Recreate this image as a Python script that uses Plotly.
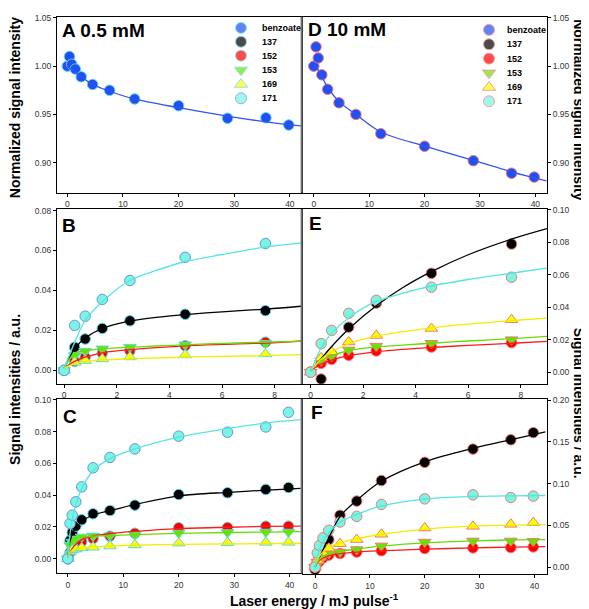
import plotly.graph_objects as go

# ---------------- data ----------------
energy_full = [0, 0.4, 0.8, 1.45, 2.5, 4.55, 7.6, 12.1, 20.0, 28.8, 35.7, 39.8]
energy_low = [0, 0.4, 0.8, 1.45, 2.5, 4.6, 7.65]
fit_x_full = [0, 0.4, 1, 2.5, 4.6, 7.6, 12, 20, 29, 36, 42]
fit_x_low = [0, 0.4, 0.8, 1.5, 2.5, 3.5, 4.6, 6, 7.7, 9]

series_names = ["benzoate", "137", "152", "153", "169", "171"]

# Panel A (0.5 mM) normalized benzoate signal
A_benzoate = [1.000, 1.010, 1.002, 0.997, 0.989, 0.981, 0.975, 0.966, 0.959, 0.946, 0.9465, 0.939]
A_benzoate_fit = [1.000, 0.998, 0.996, 0.989, 0.981, 0.974, 0.966, 0.957, 0.948, 0.942, 0.938]
# Panel D (10 mM)
D_benzoate = [1.000, 1.020, 1.0085, 0.991, 0.976, 0.962, 0.950, 0.930, 0.917, 0.902, 0.889, 0.885]
D_benzoate_fit = [1.000, 0.999, 0.994, 0.978, 0.963, 0.950, 0.932, 0.917, 0.902, 0.890, 0.881]

# Panel B (0.5 mM, low energy)
B_137 = [0, 0.0116, 0.0157, 0.0210, 0.0248, 0.0281, 0.0299]
B_152 = [0, 0.0045, 0.0066, 0.0086, 0.0098, 0.0123, 0.0141]
B_153 = [0, 0.0074, 0.0096, 0.0108, 0.0116, 0.0128, 0.0136]
B_169 = [0, 0.0040, 0.0049, 0.0057, 0.0067, 0.0077, 0.0082]
B_171 = [0, 0.0225, 0.0271, 0.0355, 0.0450, 0.0566, 0.0635]
B_137_fit = [0.001, 0.0109, 0.0162, 0.0212, 0.0246, 0.0265, 0.0279, 0.0293, 0.0307, 0.0321]
B_152_fit = [0.001, 0.0045, 0.0066, 0.0089, 0.0104, 0.0114, 0.0123, 0.0130, 0.0137, 0.0147]
B_153_fit = [0.001, 0.0085, 0.0098, 0.0108, 0.0116, 0.0122, 0.0128, 0.0135, 0.0141, 0.0145]
B_169_fit = [0.001, 0.0035, 0.0045, 0.0052, 0.0058, 0.0062, 0.0066, 0.0070, 0.0074, 0.0079]
B_171_fit = [0.001, 0.014, 0.025, 0.035, 0.045, 0.050, 0.0545, 0.058, 0.0618, 0.0638]

# Panel C (0.5 mM, full energy)
C_137 = [0, 0.0115, 0.0165, 0.0205, 0.0245, 0.0283, 0.0303, 0.0337, 0.0404, 0.0415, 0.0436, 0.0448]
C_152 = [0, 0.0040, 0.0065, 0.0085, 0.0108, 0.0127, 0.0142, 0.0160, 0.0195, 0.0197, 0.0205, 0.0205]
C_153 = [0, 0.0085, 0.0105, 0.0125, 0.0137, 0.0143, 0.0145, 0.0152, 0.0162, 0.0165, 0.0168, 0.0168]
C_169 = [0, 0.0045, 0.0055, 0.0060, 0.0068, 0.0072, 0.0080, 0.0087, 0.0098, 0.0101, 0.0103, 0.0103]
C_171 = [0, 0.0222, 0.0274, 0.0358, 0.0452, 0.0572, 0.0637, 0.0691, 0.0771, 0.0796, 0.0829, 0.0921]
C_137_fit = [0.001, 0.011, 0.017, 0.0235, 0.0275, 0.0302, 0.034, 0.0395, 0.0418, 0.0432, 0.0442]
C_152_fit = [0.001, 0.004, 0.0075, 0.012, 0.0143, 0.0158, 0.0172, 0.019, 0.0198, 0.0203, 0.0205]
C_153_fit = [0.001, 0.008, 0.0125, 0.0138, 0.0142, 0.0146, 0.0152, 0.016, 0.0165, 0.0168, 0.017]
C_169_fit = [0.001, 0.004, 0.0058, 0.007, 0.0076, 0.008, 0.0085, 0.009, 0.0093, 0.0095, 0.0096]
C_171_fit = [0.0, 0.016, 0.028, 0.044, 0.0555, 0.063, 0.069, 0.0765, 0.082, 0.0855, 0.0875]

# Panel E (10 mM, low energy)
E_137 = [0, -0.0042, 0.011, 0.0277, 0.0425, 0.0608, 0.0788]
E_152 = [0, 0.0055, 0.0079, 0.0104, 0.0131, 0.0155, 0.0182]
E_153 = [0, 0.0070, 0.0099, 0.0137, 0.0160, 0.0178, 0.0200]
E_169 = [0, 0.0088, 0.0125, 0.0186, 0.0226, 0.0269, 0.0323]
E_171 = [0, 0.0176, 0.0257, 0.0362, 0.0442, 0.0523, 0.0584]
E_137_fit = [0.001, 0.0083, 0.0158, 0.0273, 0.0408, 0.0519, 0.0618, 0.0722, 0.0821, 0.0883]
E_152_fit = [0.001, 0.005, 0.0075, 0.0103, 0.0125, 0.014, 0.0152, 0.0165, 0.0178, 0.019]
E_153_fit = [0.001, 0.007, 0.010, 0.0135, 0.0155, 0.0167, 0.0178, 0.0192, 0.0207, 0.022]
E_169_fit = [0.001, 0.008, 0.0125, 0.0178, 0.0222, 0.0248, 0.0272, 0.0295, 0.0318, 0.0333]
E_171_fit = [0.0, 0.015, 0.024, 0.034, 0.0435, 0.0485, 0.053, 0.057, 0.061, 0.064]

# Panel F (10 mM, full energy)
F_137 = [-0.003, 0.005, 0.011, 0.021, 0.033, 0.062, 0.079, 0.1036, 0.1254, 0.1413, 0.1524, 0.161]
F_152 = [0, 0.004, 0.007, 0.011, 0.0143, 0.0163, 0.018, 0.0196, 0.0222, 0.023, 0.0234, 0.0242]
F_153 = [0, 0.006, 0.009, 0.012, 0.0163, 0.018, 0.021, 0.0254, 0.030, 0.0313, 0.0313, 0.031]
F_169 = [0, 0.008, 0.012, 0.017, 0.0225, 0.028, 0.033, 0.0393, 0.0468, 0.0488, 0.0512, 0.0532]
F_171 = [0, 0.017, 0.026, 0.035, 0.044, 0.054, 0.0607, 0.075, 0.0817, 0.0865, 0.0833, 0.085]
F_137_fit = [0.0, 0.006, 0.0145, 0.035, 0.061, 0.080, 0.1025, 0.126, 0.1425, 0.153, 0.162]
F_152_fit = [0.001, 0.005, 0.009, 0.0135, 0.016, 0.018, 0.0195, 0.0215, 0.023, 0.024, 0.0245]
F_153_fit = [0.001, 0.006, 0.011, 0.016, 0.019, 0.0215, 0.025, 0.029, 0.0315, 0.0325, 0.033]
F_169_fit = [0.001, 0.008, 0.015, 0.024, 0.029, 0.034, 0.039, 0.0455, 0.049, 0.0503, 0.0508]
F_171_fit = [0.0, 0.012, 0.024, 0.041, 0.054, 0.063, 0.073, 0.0815, 0.0845, 0.0853, 0.0857]

# ---------------- styles ----------------
W, H = 589, 609
FONT = "Liberation Sans, Arial, sans-serif"
fill = {"benzoate": "#1F4FF5", "137": "#000000", "152": "#FF0000",
        "153": "#66E600", "169": "#FFFF00", "171": "#7AF5E0"}
line_col = {"benzoate": "#3355EE", "137": "#000000", "152": "#FF1A1A",
            "153": "#66DD00", "169": "#EEEE00", "171": "#55E6DC"}
symbol = {"benzoate": "circle", "137": "circle", "152": "circle",
          "153": "triangle-down", "169": "triangle-up", "171": "circle"}
left_edge = "#5CD6E8"
cyan_left_edge = "#6C8EF0"
right_edge = "#F07878"


def edge_for(name, side):
    if side == "left":
        return cyan_left_edge if name == "171" else left_edge
    return right_edge


def msize(name):
    return 11 if symbol[name].startswith("triangle") else 10.5


def pxx(p):
    return p / W


def pxy(p):
    return 1 - p / H


panels = [
    ("A", "", (49, 293), (4, 181), [-1.85, 42.0], [0.869, 1.051], 10, 0.05, "left"),
    ("B", "2", (49, 293), (198, 374), [-0.27, 9.0], [-0.0068, 0.0806], 2, 0.02, "left"),
    ("C", "3", (49, 293), (389, 565), [-1.95, 42.05], [-0.0092, 0.1006], 10, 0.02, "left"),
    ("D", "4", (295, 539), (4, 181), [-1.95, 42.1], [0.869, 1.051], 10, 0.05, "right"),
    ("E", "5", (295, 539), (198, 374), [-0.29, 9.0], [-0.0072, 0.1001], 2, 0.02, "right"),
    ("F", "6", (295, 539), (389, 566), [-2.2, 42.3], [-0.0087, 0.2015], 10, 0.05, "right"),
]

panel_data = {
    "A": (energy_full, {"benzoate": A_benzoate}, fit_x_full, {"benzoate": A_benzoate_fit}),
    "D": (energy_full, {"benzoate": D_benzoate}, fit_x_full, {"benzoate": D_benzoate_fit}),
    "B": (energy_low, {"137": B_137, "152": B_152, "153": B_153, "169": B_169, "171": B_171},
          fit_x_low, {"137": B_137_fit, "152": B_152_fit, "153": B_153_fit, "169": B_169_fit, "171": B_171_fit}),
    "C": (energy_full, {"137": C_137, "152": C_152, "153": C_153, "169": C_169, "171": C_171},
          fit_x_full, {"137": C_137_fit, "152": C_152_fit, "153": C_153_fit, "169": C_169_fit, "171": C_171_fit}),
    "E": (energy_low, {"137": E_137, "152": E_152, "153": E_153, "169": E_169, "171": E_171},
          fit_x_low, {"137": E_137_fit, "152": E_152_fit, "153": E_153_fit, "169": E_169_fit, "171": E_171_fit}),
    "F": (energy_full, {"137": F_137, "152": F_152, "153": F_153, "169": F_169, "171": F_171},
          fit_x_full, {"137": F_137_fit, "152": F_152_fit, "153": F_153_fit, "169": F_169_fit, "171": F_171_fit}),
}

fig = go.Figure()
layout = dict(width=W, height=H, margin=dict(l=0, r=0, t=0, b=0),
              paper_bgcolor="white", plot_bgcolor="rgba(0,0,0,0)", showlegend=False)

tickfont = dict(family=FONT, size=8.5, color="#333333")
for key, suf, xd, yd, xr, yr, dx, dy, side in panels:
    ax = dict(domain=[pxx(xd[0]), pxx(xd[1])], range=xr, dtick=dx, tick0=0,
              showline=True, linecolor="black", linewidth=1, mirror=True,
              ticks="outside", ticklen=3, tickwidth=1, tickcolor="black",
              showgrid=False, zeroline=False, tickfont=tickfont,
              anchor="y" + suf)
    ay = dict(domain=[pxy(yd[1]), pxy(yd[0])], range=yr, dtick=dy, tick0=0,
              tickformat=".2f", side=side,
              showline=True, linecolor="black", linewidth=1, mirror=True,
              ticks="outside", ticklen=3, tickwidth=1, tickcolor="black",
              showgrid=False, zeroline=False, tickfont=tickfont,
              anchor="x" + suf)
    layout["xaxis" + suf] = ax
    layout["yaxis" + suf] = ay

    xs, ser, fx, fits = panel_data[key]
    for name in series_names:
        if name in ser:
            fig.add_trace(go.Scatter(
                x=xs, y=ser[name], mode="markers", xaxis="x" + suf, yaxis="y" + suf,
                marker=dict(symbol=symbol[name], size=msize(name), color=fill[name],
                            line=dict(color=edge_for(name, side), width=1)),
                name=name, hoverinfo="skip", cliponaxis=True))
    for name in series_names:
        if name in fits:
            fig.add_trace(go.Scatter(
                x=fx, y=fits[name], mode="lines", xaxis="x" + suf, yaxis="y" + suf,
                line=dict(color=line_col[name], width=1.3, shape="spline", smoothing=0.9),
                hoverinfo="skip"))

# overlay axis used only to place the legend keys (pixel space)
layout["xaxis7"] = dict(domain=[0, 1], range=[0, W], visible=False, fixedrange=True, anchor="y7")
layout["yaxis7"] = dict(domain=[0, 1], range=[H, 0], visible=False, fixedrange=True, anchor="x7")

legend_rows_A = [15, 29, 43, 57.5, 72, 86]
legend_rows_D = [17, 31.5, 46, 60.5, 75, 89]
legend_key_x = {"left": 233, "right": 481}
legend_text_x = {"left": 252, "right": 497}

annotations = []
for side, rows in (("left", legend_rows_A), ("right", legend_rows_D)):
    fig.add_trace(go.Scatter(
        x=[legend_key_x[side]] * len(series_names), y=rows, mode="markers",
        xaxis="x7", yaxis="y7", hoverinfo="skip",
        marker=dict(symbol=[symbol[n] for n in series_names],
                    size=[msize(n) + 0.5 for n in series_names],
                    color=[fill[n] for n in series_names],
                    line=dict(color=[edge_for(n, side) for n in series_names], width=1))))
    for n, r in zip(series_names, rows):
        annotations.append(dict(text="<b>%s</b>" % n, x=pxx(legend_text_x[side]), y=pxy(r),
                                xref="paper", yref="paper", xanchor="left", yanchor="middle",
                                showarrow=False, font=dict(family=FONT, size=9, color="black")))

# panel letters
letters = [("A 0.5 mM", 52, 18), ("D 10 mM", 298, 17), ("B", 52, 214), ("E", 299, 212),
           ("C", 53, 407), ("F", 301, 403)]
for t, x, y in letters:
    annotations.append(dict(text="<b>%s</b>" % t, x=pxx(x), y=pxy(y), xref="paper", yref="paper",
                            xanchor="left", yanchor="middle", showarrow=False,
                            font=dict(family=FONT, size=19, color="black")))

# axis titles
title_font = dict(family=FONT, size=14, color="black")
titles = [
    dict(text="<b>Normalized signal intensity</b>", x=pxx(7), y=pxy(96), textangle=-90),
    dict(text="<b>Normalized signal intensity</b>", x=pxx(571), y=pxy(97), textangle=90),
    dict(text="<b>Signal intensities / a.u.</b>", x=pxx(7), y=pxy(380), textangle=-90),
    dict(text="<b>Signal intensities / a.u.</b>", x=pxx(571), y=pxy(393), textangle=90),
    dict(text="<b>Laser energy / mJ pulse<sup>-1</sup></b>", x=pxx(306), y=pxy(592), textangle=0),
]
for a in titles:
    a.update(xref="paper", yref="paper", xanchor="center", yanchor="middle",
             showarrow=False, font=title_font)
annotations += titles

layout["annotations"] = annotations

# grey right border of the left-hand panels
shapes = []
for top, bot in ((4, 181), (198, 374), (389, 565)):
    shapes.append(dict(type="line", xref="paper", yref="paper", x0=pxx(293.6), x1=pxx(293.6),
                       y0=pxy(bot), y1=pxy(top), line=dict(color="#707070", width=2)))
layout["shapes"] = shapes

fig.update_layout(**layout)
fig.write_html("out.html")
